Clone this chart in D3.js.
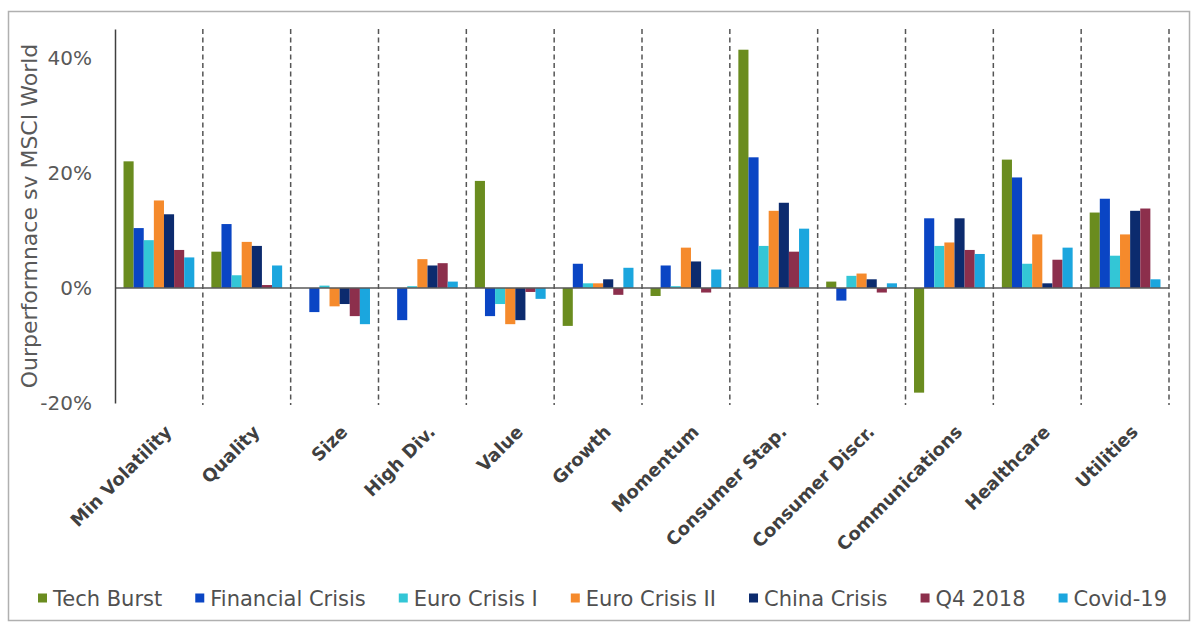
<!DOCTYPE html>
<html>
<head>
<meta charset="utf-8">
<script src="https://cdn.jsdelivr.net/npm/d3@7"></script>
<style>
  body { margin: 0; background: #fff; }
  text { font-family: "DejaVu Sans", sans-serif; }
</style>
</head>
<body>
<div class="bar-chart"></div>
<script>

// factor / sector groups on the x axis
const categories = ["Min Volatility", "Quality", "Size", "High Div.", "Value", "Growth",
    "Momentum", "Consumer Stap.", "Consumer Discr.", "Communications", "Healthcare", "Utilities"]

const seriesNames = ["Tech Burst", "Financial Crisis", "Euro Crisis I", "Euro Crisis II",
    "China Crisis", "Q4 2018", "Covid-19"]

const seriesColors = ["#6a8c1f", "#0a45c4", "#33c6d6", "#f58a2c", "#0c2b6e", "#8c2f4c", "#1ba6de"]

// outperformance in %, one value per category
const techBurst       = [22.0, 6.3, 0.0, 0.0, 18.6, -6.6, -1.4, 41.4, 1.1, -18.2, 22.3, 13.1]
const financialCrisis = [10.4, 11.1, -4.2, -5.6, -4.9, 4.2, 3.9, 22.7, -2.2, 12.1, 19.2, 15.5]
const euroCrisis1     = [8.3, 2.2, 0.4, 0.3, -2.8, 0.8, 0.3, 7.3, 2.1, 7.3, 4.2, 5.6]
const euroCrisis2     = [15.2, 8.0, -3.2, 5.0, -6.3, 0.8, 7.0, 13.4, 2.5, 7.9, 9.3, 9.3]
const chinaCrisis     = [12.8, 7.3, -2.8, 3.9, -5.6, 1.5, 4.6, 14.8, 1.5, 12.1, 0.8, 13.4]
const q42018          = [6.6, 0.5, -4.9, 4.3, -0.7, -1.2, -0.8, 6.3, -0.8, 6.6, 4.9, 13.8]
const covid19         = [5.3, 3.9, -6.3, 1.1, -1.9, 3.5, 3.2, 10.3, 0.8, 5.9, 7.0, 1.5]

const yTicks = [-20, 0, 20, 40]
const yDomain = [-20, 45]

const seriesValues = [techBurst, financialCrisis, euroCrisis1, euroCrisis2, chinaCrisis, q42018, covid19]

const W = 1200, H = 630
const plot = {left: 115, right: 1169, top: 29, bottom: 403}

var svg = d3.select('.bar-chart')
    .append("svg")
    .attr("width", W)
    .attr("height", H)

// outer frame
svg.append("rect")
    .attr("x", 8.5)
    .attr("y", 11.5)
    .attr("width", 1181)
    .attr("height", 609)
    .attr("fill", "none")
    .attr("stroke", "#b0b0b0")
    .attr("stroke-width", 1.5)

var x0 = d3.scaleBand()
    .domain(categories)
    .range([plot.left, plot.right])
    .padding(0)

var bw = x0.bandwidth()
var pad = bw * 0.097

var x1 = d3.scaleBand()
    .domain(seriesNames)
    .range([pad, bw - pad])
    .padding(0)

var yScale = d3.scaleLinear()
    .domain(yDomain)
    .range([plot.bottom, plot.top])

var color = d3.scaleOrdinal()
    .domain(seriesNames)
    .range(seriesColors)

// dashed separators between groups
svg.append("g")
    .selectAll("line")
    .data(categories)
    .join("line")
    .attr("x1", d => x0(d) + bw)
    .attr("x2", d => x0(d) + bw)
    .attr("y1", plot.top)
    .attr("y2", plot.bottom + 2)
    .attr("stroke", "#555")
    .attr("stroke-width", 1.5)
    .attr("stroke-dasharray", "5,3.5")

// flat table for the bars
var barData = []
categories.forEach((c, i) => {
    seriesNames.forEach((s, j) => {
        barData.push({cat: c, series: s, value: seriesValues[j][i]})
    })
})

svg.append("g")
    .selectAll("rect")
    .data(barData)
    .join("rect")
    .attr("x", d => x0(d.cat) + x1(d.series))
    .attr("y", d => yScale(Math.max(0, d.value)))
    .attr("width", x1.bandwidth())
    .attr("height", d => Math.abs(yScale(d.value) - yScale(0)))
    .attr("fill", d => color(d.series))

// zero line
svg.append("line")
    .attr("x1", plot.left)
    .attr("x2", plot.right)
    .attr("y1", yScale(0))
    .attr("y2", yScale(0))
    .attr("stroke", "#595959")
    .attr("stroke-width", 1.5)

var yAxis = d3.axisLeft(yScale)
    .tickValues(yTicks)
    .tickSize(0)
    .tickPadding(23)
    .tickFormat(d => d + "%")

var yAxisGroup = svg.append("g")
    .attr("transform", `translate(${plot.left}, 0)`)
    .call(yAxis)

yAxisGroup.select(".domain")
    .attr("stroke", "#404040")
    .attr("stroke-width", 1.5)

yAxisGroup.selectAll(".tick text")
    .attr("font-family", "DejaVu Sans")
    .attr("font-size", 20)
    .attr("fill", "#595959")

// y axis title
svg.append("text")
    .attr("transform", `translate(37, ${(plot.top + plot.bottom) / 2}) rotate(-90)`)
    .attr("text-anchor", "middle")
    .attr("font-size", 22)
    .attr("fill", "#595959")
    .text("Ourperformnace sv MSCI World")

// rotated category labels
svg.append("g")
    .selectAll("text")
    .data(categories)
    .join("text")
    .attr("transform", d => `translate(${x0(d) + bw / 2 + 14}, 433) rotate(-45)`)
    .attr("text-anchor", "end")
    .attr("font-size", 18)
    .attr("font-weight", "bold")
    .attr("fill", "#404040")
    .text(d => d)

// legend, laid out from the measured label widths
var legend = svg.append("g")
var sq = 9, sqGap = 6
var items = legend.selectAll("g")
    .data(seriesNames)
    .join("g")

items.append("rect")
    .attr("width", sq)
    .attr("height", sq)
    .attr("y", -sq / 2)
    .attr("fill", d => color(d))

items.append("text")
    .attr("x", sq + sqGap)
    .attr("dy", "0.36em")
    .attr("font-size", 21)
    .attr("fill", "#505050")
    .text(d => d)

var widths = []
items.selectAll("text").each(function() { widths.push(this.getComputedTextLength()) })
var legendLeft = 38, legendRight = 1167
var used = d3.sum(widths) + seriesNames.length * (sq + sqGap)
var gap = (legendRight - legendLeft - used) / (seriesNames.length - 1)
var cursor = legendLeft
items.attr("transform", (d, i) => {
    var t = `translate(${cursor}, 598)`
    cursor += sq + sqGap + widths[i] + gap
    return t
})

</script>
</body>
</html>
